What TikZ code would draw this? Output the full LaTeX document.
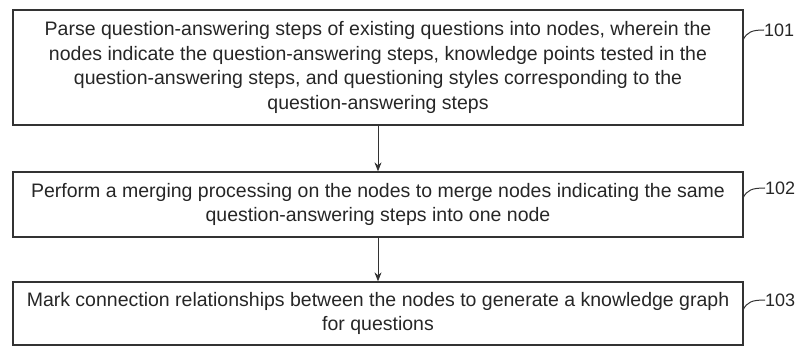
\documentclass[tikz,border=0pt]{standalone}
\usepackage{fontspec}
\setmainfont{Liberation Sans}
\usetikzlibrary{arrows.meta}
\begin{document}
\begin{tikzpicture}[x=1pt,y=-1pt,
  stepbox/.style={draw=black!80, line width=1.3pt, minimum width=730pt, align=center,
    font=\fontsize{19.5}{24.5}\selectfont, inner sep=0pt, text=black!85},
  lbl/.style={font=\fontsize{18}{22}\selectfont, inner sep=0pt, anchor=west, text=black!85},
  flow/.style={-{Stealth[length=9pt,width=7pt]}, line width=0.8pt, draw=black!80},
  lead/.style={line width=1pt, draw=black!80}]
\useasboundingbox (0,0) rectangle (800,347);
\node[stepbox, minimum height=115pt] (b1) at (378,67.5)
  {Parse question-answering steps of existing questions into nodes, wherein the\\
   nodes indicate the question-answering steps, knowledge points tested in the\\
   question-answering steps, and questioning styles corresponding to the\\
   question-answering steps};
\node[stepbox, minimum height=65pt] (b2) at (378,204.5)
  {Perform a merging processing on the nodes to merge nodes indicating the same\\
   question-answering steps into one node};
\node[stepbox, minimum height=63pt] (b3) at (378,313.5)
  {Mark connection relationships between the nodes to generate a knowledge graph\\
   for questions};
\node[lbl] (l1) at (764,30) {101};
\node[lbl] (l2) at (765,188) {102};
\node[lbl] (l3) at (765,300) {103};
\coordinate (t1) at (743,40);
\coordinate (t2) at (743,198);
\coordinate (t3) at (743,310);
\draw[lead] (t1) .. controls (747,32) and (752,30) .. (l1.west);
\draw[lead] (t2) .. controls (747,190) and (752,188) .. (l2.west);
\draw[lead] (t3) .. controls (747,302) and (752,300) .. (l3.west);
\draw[flow] (b1.south) -- (b2.north);
\draw[flow] (b2.south) -- (b3.north);
\end{tikzpicture}
\end{document}
